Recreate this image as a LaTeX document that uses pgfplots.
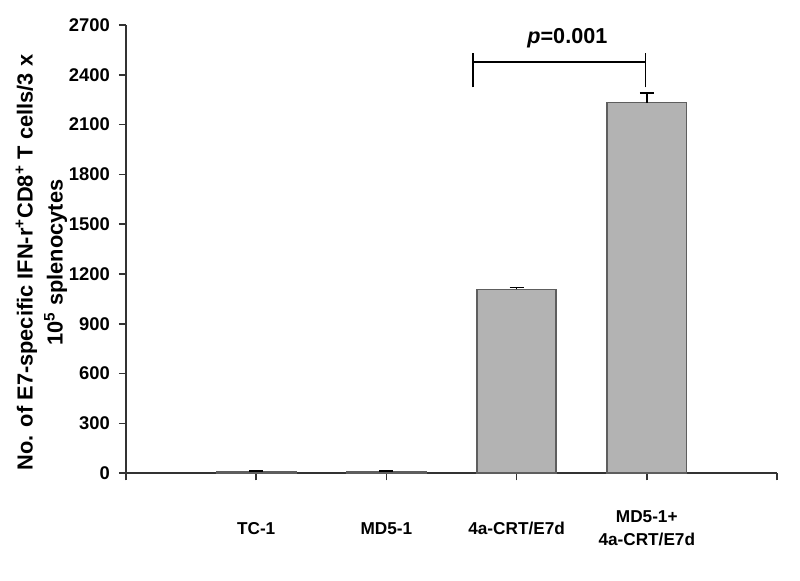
\documentclass[border=0pt]{standalone}
\usepackage{pgfplots}
\pgfplotsset{compat=1.18}
\usepackage{fontspec}
\setmainfont{Liberation Sans}
\definecolor{barfill}{HTML}{B3B3B3}
\definecolor{baredge}{HTML}{5E5E5E}
\definecolor{axcol}{HTML}{333333}
\begin{document}
\begin{tikzpicture}
\useasboundingbox (-63pt,-53.85pt) rectangle (337pt,236.65pt);
\begin{axis}[
  at={(0,0)}, anchor=south west,
  scale only axis,
  width=325.5pt, height=224.15pt,
  xmin=0, xmax=5, ymin=0, ymax=2700,
  axis lines*=left,
  axis line style={axcol, line width=1pt},
  every tick/.style={axcol, line width=0.8pt},
  tick align=outside,
  major tick length=3.5pt,
  xtick={0,1,2,3,4,5},
  xticklabels={,TC-1,MD5-1,4a-CRT/E7d,{MD5-1+\\4a-CRT/E7d},},
  xticklabel style={font=\bfseries\fontsize{8.6}{11.5}\selectfont, align=center, anchor=center, yshift=-24pt},
  ytick={0,300,600,900,1200,1500,1800,2100,2400,2700},
  yticklabels={0,300,600,900,1200,1500,1800,2100,2400,2700},
  yticklabel style={font=\bfseries\fontsize{9.2}{10}\selectfont, anchor=east, xshift=-1pt},
  ylabel={No. of E7-specific IFN-r\textsuperscript{+}CD8\textsuperscript{+} T cells/3 x\\10\textsuperscript{5} splenocytes},
  ylabel style={font=\bfseries\fontsize{10.9}{15}\selectfont, align=center, at={(axis description cs:-0.13,0.47)}, anchor=center},
  clip=false,
]
\addplot[ybar, bar width=0.61, fill=barfill, draw=baredge, line width=0.8pt,
  error bars/.cd, y dir=plus, y explicit, error bar style={black, line width=0.8pt}, error mark options={rotate=90, mark size=3.5pt, line width=0.8pt}]
  coordinates {
  (1,8) +- (0,5)
  (2,8) +- (0,5)
  (3,1108) +- (0,12)
  (4,2232) +- (0,57)
};
\addplot[black, line width=0.9pt] coordinates {(2.667,2479) (3.99,2479)};
\addplot[black, line width=0.9pt] coordinates {(2.667,2325) (2.667,2530)};
\addplot[black, line width=0.9pt] coordinates {(3.99,2325) (3.99,2530)};
\node[font=\bfseries\fontsize{10.8}{12}\selectfont] at (axis cs:3.39,2622) {\textit{p}=0.001};
\end{axis}
\end{tikzpicture}
\end{document}
